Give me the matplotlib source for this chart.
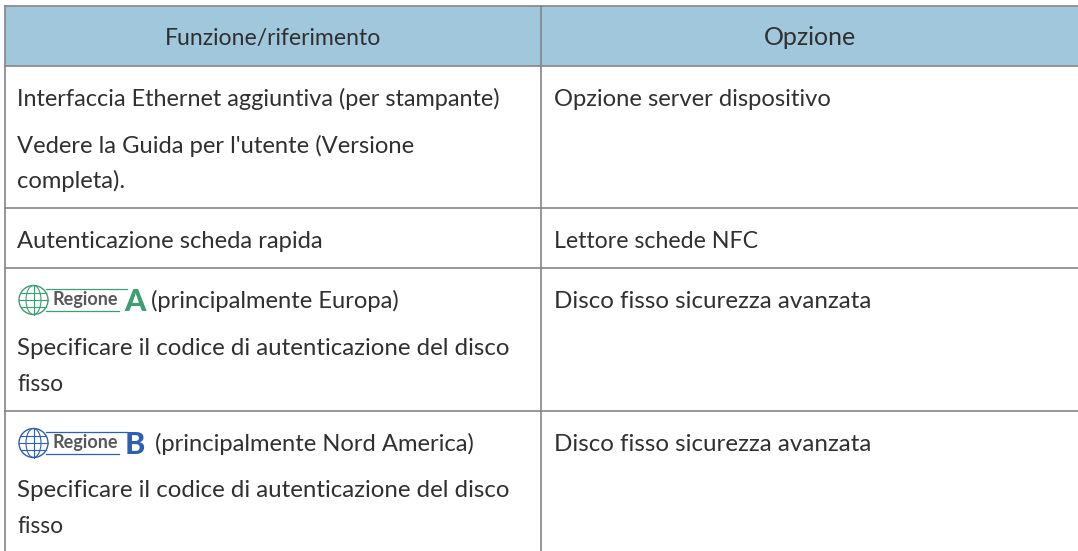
import matplotlib
matplotlib.use("Agg")
from matplotlib import pyplot as plt
from matplotlib.patches import Rectangle, Circle, Ellipse

# dimensioni del riferimento, in pixel
W = 1078
H = 551

header_left = "Funzione/riferimento"
header_right = "Opzione"

# testo delle righe: (baseline in pixel, testo)
left_lines = [
    (106, "Interfaccia Ethernet aggiuntiva (per stampante)"),
    (153, "Vedere la Guida per l'utente (Versione"),
    (188, "completa)."),
    (248, "Autenticazione scheda rapida"),
    (355, "Specificare il codice di autenticazione del disco"),
    (391, "fisso"),
    (497, "Specificare il codice di autenticazione del disco"),
    (533, "fisso"),
]
right_lines = [
    (106, "Opzione server dispositivo"),
    (248, "Lettore schede NFC"),
    (308, "Disco fisso sicurezza avanzata"),
    (451, "Disco fisso sicurezza avanzata"),
]
region_lines = [
    (300, "A", "#3f9d72", "(principalmente Europa)", 151),
    (443, "B", "#2f5fb0", "(principalmente Nord America)", 155),
]

row_lines = [66, 208, 268, 411]

plt.rcParams['font.family'] = ['Lato', 'DejaVu Sans']
fig = plt.figure(figsize=(W / 100, H / 100), dpi=100)
ax = fig.add_axes([0, 0, 1, 1])
ax.set_xlim(0, W)
ax.set_ylim(H, 0)
ax.axis("off")

line_col = "#858585"
text_col = "#303030"
fs = 17.1

# Lato non ha le stesse larghezze del font originale, qualche riga va ritoccata
size_fix = {
    "Interfaccia Ethernet aggiuntiva (per stampante)": 16.9,
    "Specificare il codice di autenticazione del disco": 17.3,
    "Disco fisso sicurezza avanzata": 17.35,
    "Lettore schede NFC": 16.7,
    "fisso": 16.4,
}

ax.add_patch(Rectangle((5, 6), W - 5, 60, fc="#a1c7dc", ec="none"))
ax.plot([5, W], [6, 6], color=line_col, lw=1.2)
for y in row_lines:
    ax.plot([5, W], [y, y], color=line_col, lw=1.2)
for x in [5, 541]:
    ax.plot([x, x], [6, H], color=line_col, lw=1.2)

ax.text(273, 45, header_left, fontsize=16.6, color=text_col, ha="center", va="baseline")
ax.text(810, 45, header_right, fontsize=18, color=text_col, ha="center", va="baseline")

for y, s in left_lines:
    ax.text(17, y, s, fontsize=size_fix.get(s, fs), color=text_col, va="baseline")
for y, s in right_lines:
    ax.text(554.5, y, s, fontsize=size_fix.get(s, fs), color=text_col, va="baseline")


def region_badge(y, letter, col, s, tx):
    # globo + etichetta Regione + lettera
    cx = 33.5
    ax.plot([46, 127], [y - 11, y - 11], color=col, lw=0.9)
    ax.plot([46, 119], [y + 11, y + 11], color=col, lw=0.9)
    ax.add_patch(Circle((cx, y), 14.5, fc="white", ec=col, lw=1))
    ax.add_patch(Ellipse((cx, y), 15, 29, fc="none", ec=col, lw=0.8))
    ax.plot([cx, cx], [y - 14.5, y + 14.5], color=col, lw=0.8)
    ax.plot([cx - 14.5, cx + 14.5], [y, y], color=col, lw=0.8)
    ax.plot([cx - 12.5, cx + 12.5], [y - 7, y - 7], color=col, lw=0.8)
    ax.plot([cx - 12.5, cx + 12.5], [y + 7, y + 7], color=col, lw=0.8)
    ax.text(52.5, y + 5, "Regione", fontsize=13, fontweight="bold", color="#55595c", va="baseline")
    ax.text(134.5, y + 11, letter, fontsize=22, fontweight="black", color=col, ha="center", va="baseline")
    ax.text(tx, y + 8, s, fontsize=fs, color=text_col, va="baseline")


for y, letter, col, s, tx in region_lines:
    region_badge(y, letter, col, s, tx)

fig.savefig("out.png", dpi=100)
